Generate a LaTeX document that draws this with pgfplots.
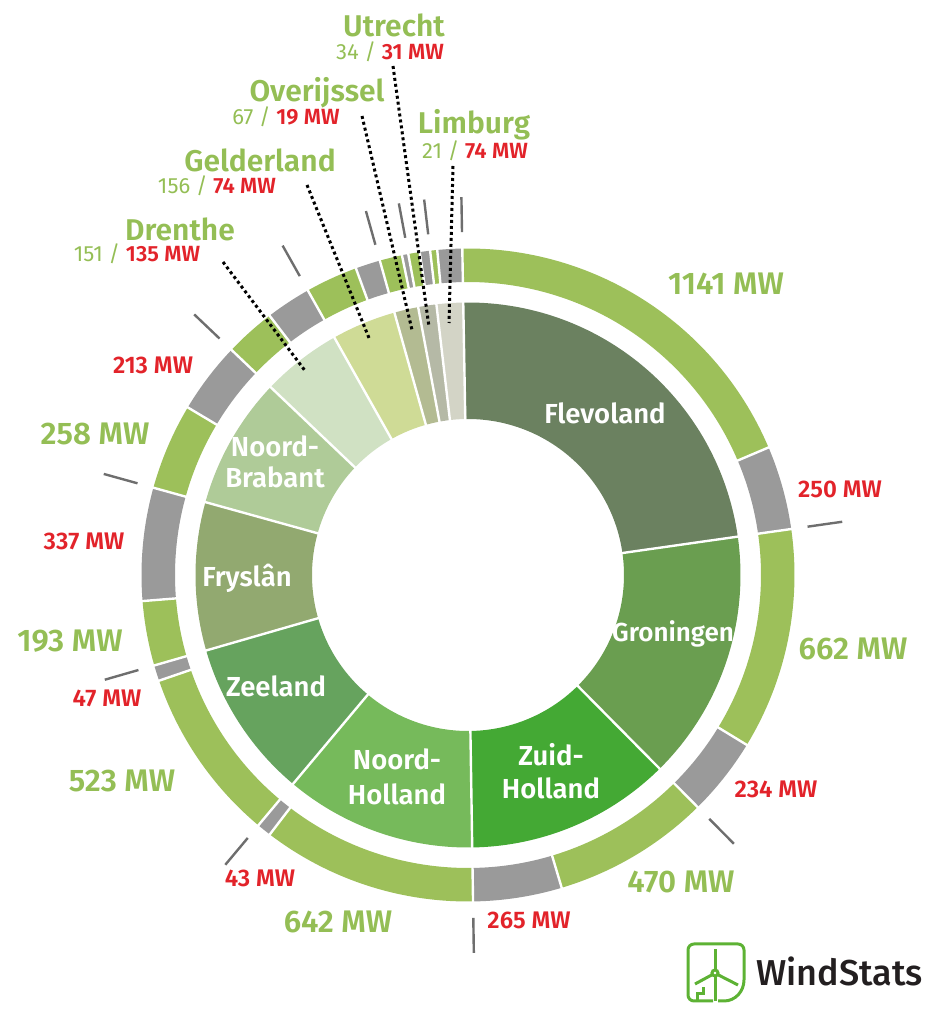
\documentclass[border=0pt]{standalone}
\usepackage{pgfplots}
\pgfplotsset{compat=1.18}
\usepackage{pgfplotstable}
\usepackage{fontspec}
\setmainfont{Fira Sans}[BoldFont={Fira Sans SemiBold}]
\newfontfamily\logofont{Fira Sans Medium}
\definecolor{cFle}{HTML}{6B8160}
\definecolor{cGro}{HTML}{6A9E50}
\definecolor{cZH}{HTML}{44A934}
\definecolor{cNH}{HTML}{76BA5B}
\definecolor{cZee}{HTML}{66A35E}
\definecolor{cFry}{HTML}{92A970}
\definecolor{cNB}{HTML}{AFCB98}
\definecolor{cDre}{HTML}{D0E1C3}
\definecolor{cGel}{HTML}{CFDB96}
\definecolor{cOve}{HTML}{B3BB92}
\definecolor{cUtr}{HTML}{B5B9A6}
\definecolor{cLim}{HTML}{D3D4C6}
\definecolor{ringG}{HTML}{9DC05A}
\definecolor{ringX}{HTML}{9A9A9A}
\definecolor{txtG}{HTML}{94BE55}
\definecolor{txtR}{HTML}{E2232A}
\definecolor{tickC}{HTML}{6E6E6E}
\definecolor{logoG}{HTML}{5DB234}
\definecolor{logoT}{HTML}{231F20}

% province: operational (green) / planned (red) MW
\pgfplotstableread{
name green red col
Flevoland 1141 250 cFle
Groningen 662 234 cGro
Zuid-Holland 470 265 cZH
Noord-Holland 642 43 cNH
Zeeland 523 47 cZee
Fryslan 193 337 cFry
Noord-Brabant 258 213 cNB
Drenthe 151 135 cDre
Gelderland 156 74 cGel
Overijssel 67 19 cOve
Utrecht 34 31 cUtr
Limburg 21 74 cLim
}\provdata

\newcommand\bigG{\fontsize{15.6}{17}\selectfont\bfseries\color{txtG}}
\newcommand\smR{\fontsize{12}{14}\selectfont\bfseries\color{txtR}}
\newcommand\inL{\fontsize{13.75}{15.5}\selectfont\bfseries\color{white}}
\newcommand\topN{\fontsize{15}{17}\selectfont\bfseries\color{txtG}}
\newcommand\subV[2]{\fontsize{11}{13}\selectfont{\mdseries\color{txtG}#1 /} {\bfseries\color{txtR}#2 MW}}

\begin{document}
\begin{tikzpicture}
\xdef\tot{0}%
\foreach \i in {0,...,11}{%
  \pgfplotstablegetelem{\i}{green}\of\provdata\let\vg\pgfplotsretval
  \pgfplotstablegetelem{\i}{red}\of\provdata\let\vr\pgfplotsretval
  \pgfmathparse{\tot+\vg+\vr}\xdef\tot{\pgfmathresult}%
}%
\xdef\cum{0}%
\foreach \i in {0,...,11}{%
  \pgfplotstablegetelem{\i}{green}\of\provdata\let\vg\pgfplotsretval
  \pgfplotstablegetelem{\i}{red}\of\provdata\let\vr\pgfplotsretval
  \pgfplotstablegetelem{\i}{col}\of\provdata
  \expandafter\xdef\csname cl\i\endcsname{\pgfplotsretval}%
  \pgfmathparse{91-360*(\cum/\tot)}\expandafter\xdef\csname aS\i\endcsname{\pgfmathresult}%
  \pgfmathparse{\cum+\vg}\let\cm\pgfmathresult
  \pgfmathparse{91-360*(\cm/\tot)}\expandafter\xdef\csname aM\i\endcsname{\pgfmathresult}%
  \pgfmathparse{\cum+\vg+\vr}\xdef\cum{\pgfmathresult}%
  \pgfmathparse{91-360*(\cum/\tot)}\expandafter\xdef\csname aE\i\endcsname{\pgfmathresult}%
}%
\begin{axis}[x=0.5pt, y=0.5pt, xmin=0, xmax=948, ymin=0, ymax=1024,
  hide axis, clip=false, scale only axis]
\addplot[draw=none, forget plot] coordinates {(0,0) (948,1024)};
% inner ring: province totals
\pgfplotsinvokeforeach{0,...,11}{
  \addplot[draw=\csname cl#1\endcsname, line width=58.25pt, line cap=butt, line join=round,
    domain=\csname aE#1\endcsname:\csname aS#1\endcsname, samples=60, no marks]
    ({468+214.25*cos(x)},{449+214.25*sin(x)});
}
% outer ring: green = operational, gray = planned
\pgfplotsinvokeforeach{0,...,11}{
  \addplot[draw=ringG, line width=16.75pt, line cap=butt, line join=round,
    domain=\csname aM#1\endcsname:\csname aS#1\endcsname, samples=60, no marks]
    ({468+309.75*cos(x)},{449+309.75*sin(x)});
  \addplot[draw=ringX, line width=16.75pt, line cap=butt, line join=round,
    domain=\csname aE#1\endcsname:\csname aM#1\endcsname, samples=40, no marks]
    ({468+309.75*cos(x)},{449+309.75*sin(x)});
}
% separators and ticks
\pgfplotsinvokeforeach{0,...,11}{
  \addplot[white, line width=1.2pt, domain=150:277, samples=2, no marks]
    ({468+x*cos(\csname aS#1\endcsname)},{449+x*sin(\csname aS#1\endcsname)});
  \addplot[white, line width=1.2pt, domain=290:330, samples=2, no marks]
    ({468+x*cos(\csname aS#1\endcsname)},{449+x*sin(\csname aS#1\endcsname)});
  \addplot[white, line width=1.2pt, domain=290:330, samples=2, no marks]
    ({468+x*cos(\csname aM#1\endcsname)},{449+x*sin(\csname aM#1\endcsname)});
  \addplot[tickC, line width=1.2pt, domain=343:378, samples=2, no marks]
    ({468+x*cos(\csname aS#1\endcsname)},{449+x*sin(\csname aS#1\endcsname)});
}
% outer value labels
\node[anchor=base, font=\bigG] at (726,729) {1141 MW};
\node[anchor=base, font=\smR] at (840,526) {250 MW};
\node[anchor=base, font=\bigG] at (853,364) {662 MW};
\node[anchor=base, font=\smR] at (776,226) {234 MW};
\node[anchor=base, font=\bigG] at (681,131) {470 MW};
\node[anchor=base, font=\smR] at (529,95) {265 MW};
\node[anchor=base, font=\bigG] at (338,91) {642 MW};
\node[anchor=base, font=\smR] at (260,137) {43 MW};
\node[anchor=base, font=\bigG] at (122,232) {523 MW};
\node[anchor=base, font=\smR] at (107,317) {47 MW};
\node[anchor=base, font=\bigG] at (70,372) {193 MW};
\node[anchor=base, font=\smR] at (84,474) {337 MW};
\node[anchor=base, font=\bigG] at (95,579) {258 MW};
\node[anchor=base, font=\smR] at (153,650) {213 MW};
% inner labels
\node[anchor=base, font=\inL] at (605,600) {Flevoland};
\node[anchor=base, font=\inL\fontsize{13}{15}\selectfont] at (673,382) {Groningen};
\node[anchor=base, font=\inL] at (551,258) {Zuid-};
\node[anchor=base, font=\inL] at (551,225) {Holland};
\node[anchor=base, font=\inL] at (397,254) {Noord-};
\node[anchor=base, font=\inL] at (397,219) {Holland};
\node[anchor=base, font=\inL] at (276,327) {Zeeland};
\node[anchor=base, font=\inL] at (247,437) {Fryslân};
\node[anchor=base, font=\inL] at (275,567) {Noord-};
\node[anchor=base, font=\inL] at (275,536) {Brabant};
% small provinces, top labels
\node[anchor=base, font=\topN] at (394,987) {Utrecht};
\node[anchor=base] at (390,964) {\subV{34}{31}};
\node[anchor=base, font=\topN] at (317,922) {Overijssel};
\node[anchor=base] at (286,899) {\subV{67}{19}};
\node[anchor=base, font=\topN] at (474,890) {Limburg};
\node[anchor=base] at (475,865) {\subV{21}{74}};
\node[anchor=base, font=\topN] at (260,852) {Gelderland};
\node[anchor=base] at (217,830) {\subV{156}{74}};
\node[anchor=base, font=\topN] at (180,783) {Drenthe};
\node[anchor=base] at (137,762) {\subV{151}{135}};
% leader lines
\begin{scope}[black, line width=1.5pt, dash pattern=on 1.5pt off 1.5pt]
\draw (393,958) -- (429,697);
\draw (362,908) -- (412,694);
\draw (453,858) -- (449,701);
\draw (307,839) -- (369,686);
\draw (223,762) -- (306,652);
\end{scope}
% logo
\begin{scope}[logoG, line width=1.5pt]
\draw[rounded corners=3pt] (713,23) -- (688,23) -- (688,80) -- (744,80) -- (744,44);
\draw (744,44) to[out=-90,in=0] (724,23) -- (718,23);
\draw (715,51) circle[radius=3];
\draw (715,54) -- (715,75);
\draw (712.5,49.5) -- (695,40);
\draw (717.5,49.5) -- (738,39);
\draw (715,48) -- (715,23);
\draw (697,23) -- (697,30) -- (703,30) -- (703,37);
\end{scope}
\node[anchor=base west, font=\logofont\fontsize{18}{20}\selectfont, text=logoT, inner sep=0pt] at (756,39) {WindStats};
\end{axis}
\end{tikzpicture}
\end{document}
